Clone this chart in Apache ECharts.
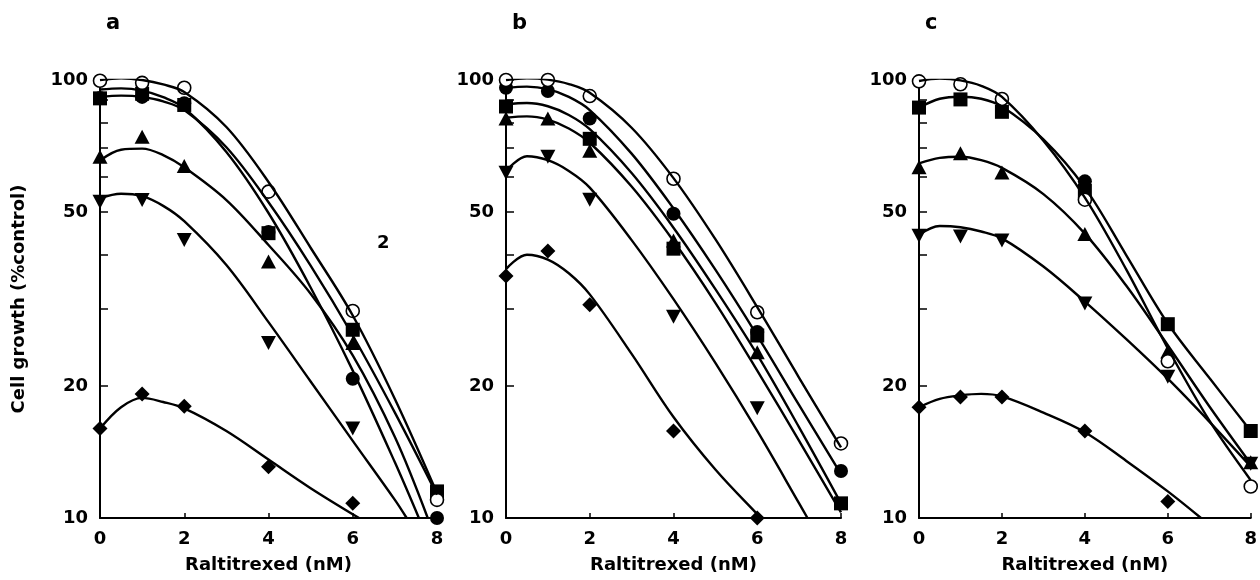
<!DOCTYPE html>
<html>
<head>
<meta charset="utf-8">
<title>Raltitrexed cell growth</title>
<script src="https://cdn.jsdelivr.net/npm/echarts@6/dist/echarts.min.js"></script>
<style>
  html, body { margin: 0; padding: 0; background: #fff; }
  #chart { width: 1260px; height: 580px; }
</style>
</head>
<body>
<div id="chart"></div>
<script>
// doses (nM) where growth was measured
const doses = [0, 1, 2, 4, 6, 8];
const yLabelValues = [10, 20, 50, 100];
const yTickValues = [10, 20, 30, 40, 50, 60, 70, 80, 90, 100];

// panel a - measured points (% control), null = not shown
const aOpenCircle = [99.6, 98.5, 96, 55.6, 29.7, 11];
const aFilledCircle = [91, 91.5, 88.5, 45, 20.8, 10];
const aSquare = [90.8, 93, 87.7, 44.7, 26.9, 11.5];
const aTriUp = [66.8, 74.2, 63.6, 38.5, 25.1, null];
const aTriDown = [52.7, 53.2, 43.1, 25.1, 16.0, null];
const aDiamond = [16.0, 19.2, 18.0, 13.1, 10.8, null];

// panel a - fitted curves, [dose, %control]
const aOpenCircleFit = [[0, 100], [0.5, 100.9], [1, 100], [1.5, 97.7], [2, 93.9], [3, 78.1], [4, 58.5], [5, 41.4], [6, 29.0], [7, 18.7], [8, 11.4]];
const aFilledCircleFit = [[0, 95.1], [0.5, 95.7], [1, 94.6], [1.5, 91.4], [2, 86.3], [3, 68.5], [4, 49.7], [5, 33.6], [6, 21.7], [7, 13.4], [7.57, 10]];
const aSquareFit = [[0, 91.5], [0.5, 92.1], [1, 91.5], [1.5, 89.4], [2, 85.4], [3, 70.2], [4, 52.6], [5, 37.7], [6, 26.1], [7, 17.4], [8, 11.3]];
const aTriUpFit = [[0, 65.5], [0.5, 69.3], [1, 69.7], [1.5, 67.4], [2, 63.2], [3, 53.2], [4, 42.0], [5, 32.5], [6, 23.5], [7, 15.3], [7.78, 10]];
const aTriDownFit = [[0, 53.7], [0.5, 55.0], [1, 54.3], [1.5, 51.6], [2, 47.6], [3, 37.8], [4, 28.0], [5, 20.5], [6, 15.0], [7, 11.0], [7.28, 10]];
const aDiamondFit = [[0, 16], [0.5, 17.9], [1, 18.8], [1.5, 18.4], [2, 17.8], [3, 15.8], [4, 13.6], [5, 11.7], [6.15, 10]];

// panel b - measured points
const bOpenCircle = [100, 100, 91.9, 59.5, 29.5, 14.8];
const bFilledCircle = [96, 94.4, 81.7, 49.5, 26.6, 12.8];
const bSquare = [87, null, 73.4, 41.2, 26.1, 10.8];
const bTriUp = [81.7, 81.7, 68.9, 43, 23.9, null];
const bTriDown = [61.4, 66.8, 53.3, 28.8, 17.8, null];
const bDiamond = [35.7, 40.7, 30.7, 15.8, 10, null];

// panel b - fitted curves
const bOpenCircleFit = [[0, 100], [0.5, 100.9], [1, 100.2], [1.5, 97.9], [2, 93.5], [3, 77.8], [4, 59.7], [5, 43.3], [6, 30.3], [7, 20.9], [8, 14.5]];
const bFilledCircleFit = [[0, 96], [0.5, 96.6], [1, 95.3], [1.5, 91.5], [2, 85.4], [3, 67.9], [4, 50.9], [5, 36.9], [6, 26.1], [7, 18.1], [8, 12.6]];
const bSquareFit = [[0, 88], [0.5, 88.6], [1, 87.1], [1.5, 83.2], [2, 77.2], [3, 61.3], [4, 46.0], [5, 33.3], [6, 23.6], [7, 16.1], [8, 10.8]];
const bTriUpFit = [[0, 82], [0.5, 82.6], [1, 81.2], [1.5, 77.5], [2, 71.9], [3, 57.1], [4, 42.9], [5, 31.0], [6, 21.7], [7, 15.0], [8, 10.3]];
const bTriDownFit = [[0, 62], [0.5, 67.0], [1, 65.6], [1.5, 62.0], [2, 56.8], [3, 43.1], [4, 31.6], [5, 22.6], [6, 15.8], [7, 10.8], [7.2, 10]];
const bDiamondFit = [[0, 37], [0.5, 39.9], [1, 38.9], [1.5, 36.2], [2, 32.4], [3, 23.7], [4, 17.0], [5, 12.9], [6, 10.2], [6.1, 10]];

// panel c - measured points
const cOpenCircle = [99.3, 97.8, 90.5, 53.3, 22.8, 11.8];
const cFilledCircle = [null, null, null, 58.7, null, null];
const cSquare = [86.5, 90.3, 84.6, 55.8, 27.7, 15.8];
const cTriUp = [63.2, 68, 61.5, 44.5, 24, 13.4];
const cTriDown = [44.1, 43.9, 43, 30.9, 21, 13.3];
const cDiamond = [17.9, 18.9, 18.9, 15.8, 10.9, null];

// panel c - fitted curves
const cOpenCircleFit = [[0, 99.5], [0.5, 100.7], [1, 99.8], [1.5, 97.0], [2, 91.5], [3, 72.7], [4, 53.9], [5, 36.9], [6, 24.4], [7, 16.7], [8, 12.2]];
const cSquareFit = [[0, 86.5], [0.5, 90.6], [1, 91.6], [1.5, 90.6], [2, 87.0], [3, 73.2], [4, 56.8], [5, 39.8], [6, 27.8], [7, 20.9], [8, 15.8]];
const cTriUpFit = [[0, 64.5], [0.5, 66.4], [1, 66.8], [1.5, 65.6], [2, 63.0], [3, 54.9], [4, 44.6], [5, 33.9], [6, 24.8], [7, 18.0], [8, 13.3]];
const cTriDownFit = [[0, 44.3], [0.5, 46.4], [1, 46.1], [1.5, 45.1], [2, 43.5], [3, 37.5], [4, 31.2], [5, 25.6], [6, 20.8], [7, 16.6], [8, 13.1]];
const cDiamondFit = [[0, 17.9], [0.5, 18.7], [1, 19.05], [1.5, 19.2], [2, 18.95], [3, 17.4], [4, 15.7], [5, 13.5], [6, 11.5], [6.8, 10]];

const FONT = 'DejaVu Sans';

const markerStyles = {
  filledCircle: { symbol: 'circle', symbolSize: 14, itemStyle: { color: '#000', opacity: 1 } },
  square: { symbol: 'rect', symbolSize: 14, itemStyle: { color: '#000', opacity: 1 } },
  triUp: { symbol: 'triangle', symbolSize: [15, 14], itemStyle: { color: '#000', opacity: 1 } },
  triDown: { symbol: 'triangle', symbolSize: [15, 14], symbolRotate: 180, itemStyle: { color: '#000', opacity: 1 } },
  diamond: { symbol: 'diamond', symbolSize: 15, itemStyle: { color: '#000', opacity: 1 } },
  openCircle: { symbol: 'circle', symbolSize: 13, itemStyle: { color: '#fff', borderColor: '#000', borderWidth: 1.6, opacity: 1 } }
};

const panels = [
  {
    letter: 'a', left: 100, width: 337,
    points: { filledCircle: aFilledCircle, square: aSquare, triUp: aTriUp, triDown: aTriDown, diamond: aDiamond, openCircle: aOpenCircle },
    fits: [aOpenCircleFit, aFilledCircleFit, aSquareFit, aTriUpFit, aTriDownFit, aDiamondFit]
  },
  {
    letter: 'b', left: 506, width: 335,
    points: { filledCircle: bFilledCircle, square: bSquare, triUp: bTriUp, triDown: bTriDown, diamond: bDiamond, openCircle: bOpenCircle },
    fits: [bOpenCircleFit, bFilledCircleFit, bSquareFit, bTriUpFit, bTriDownFit, bDiamondFit]
  },
  {
    letter: 'c', left: 919, width: 335,
    points: { filledCircle: cFilledCircle, square: cSquare, triUp: cTriUp, triDown: cTriDown, diamond: cDiamond, openCircle: cOpenCircle },
    fits: [cOpenCircleFit, cSquareFit, cTriUpFit, cTriDownFit, cDiamondFit]
  }
];

const chart = echarts.init(document.getElementById('chart'));

const grid = [], xAxis = [], yAxis = [], series = [], title = [];

panels.forEach((p, i) => {
  grid.push({ left: p.left, top: 80, width: p.width, height: 438 });

  xAxis.push({
    type: 'value', gridIndex: i, min: 0, max: 8, interval: 2,
    name: 'Raltitrexed (nM)', nameLocation: 'middle', nameGap: 38,
    nameTextStyle: { color: '#000', fontFamily: FONT, fontWeight: 'bold', fontSize: 18 },
    axisLine: { lineStyle: { color: '#000', width: 2 } },
    axisTick: { inside: true, length: 5, lineStyle: { color: '#000', width: 1.5 } },
    axisLabel: { color: '#000', fontFamily: FONT, fontWeight: 'bold', fontSize: 18, margin: 12 },
    splitLine: { show: false }
  });

  yAxis.push({
    type: 'log', logBase: 10, gridIndex: i, min: 10, max: 100,
    name: i === 0 ? 'Cell growth (%control)' : '',
    nameLocation: 'middle', nameGap: 72,
    nameTextStyle: { color: '#000', fontFamily: FONT, fontWeight: 'bold', fontSize: 18 },
    axisLine: { show: true, lineStyle: { color: '#000', width: 2 } },
    axisTick: { inside: true, length: 8, customValues: yTickValues, lineStyle: { color: '#000', width: 1.5 } },
    axisLabel: {
      color: '#000', fontFamily: FONT, fontWeight: 'bold', fontSize: 18, margin: 12,
      customValues: yLabelValues, formatter: v => String(Math.round(v))
    },
    splitLine: { show: false },
    minorTick: { show: false }
  });

  p.fits.forEach(fit => {
    series.push({
      type: 'line', xAxisIndex: i, yAxisIndex: i,
      data: fit, smooth: 0.35, showSymbol: false, symbol: 'none',
      lineStyle: { color: '#000', width: 2.4 }, clip: true, silent: true
    });
  });

  Object.keys(p.points).forEach(kind => {
    const vals = p.points[kind];
    const data = [];
    vals.forEach((v, k) => { if (v != null) data.push([doses[k], v]); });
    series.push(Object.assign({
      type: 'scatter', xAxisIndex: i, yAxisIndex: i, data: data, clip: false, silent: true
    }, markerStyles[kind]));
  });

  title.push({
    text: p.letter, left: p.left + 1, top: 8,
    textStyle: { color: '#000', fontFamily: FONT, fontWeight: 'bold', fontSize: 21 }
  });
});

chart.setOption({
  animation: false,
  backgroundColor: '#fff',
  title: title,
  grid: grid,
  xAxis: xAxis,
  yAxis: yAxis,
  series: series,
  graphic: [{
    type: 'text', left: 377, top: 234,
    style: { text: '2', fill: '#000', font: 'bold 18px "DejaVu Sans"' }
  }]
});
</script>
</body>
</html>
